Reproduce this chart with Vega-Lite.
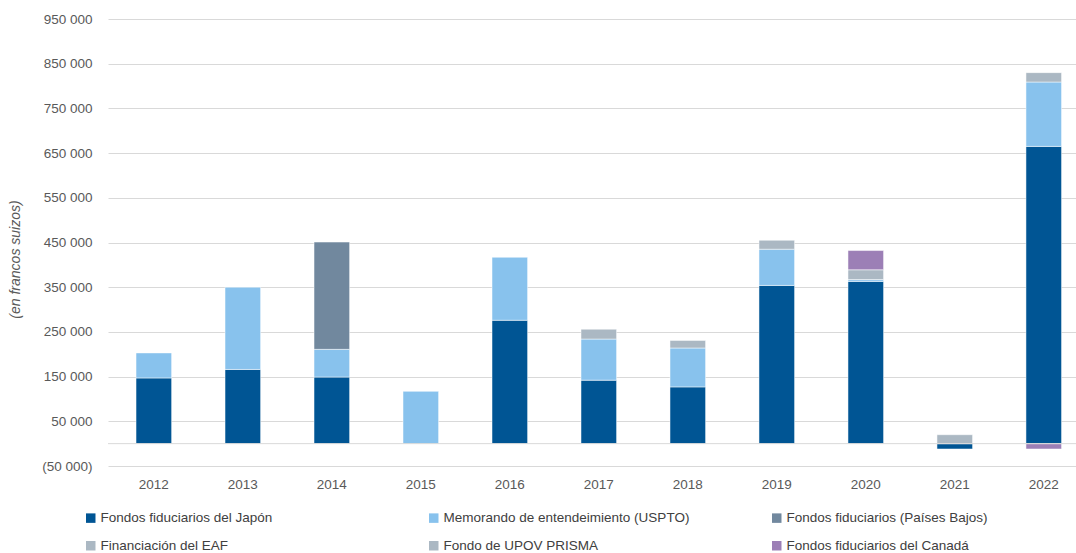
{
  "$schema": "https://vega.github.io/schema/vega-lite/v6.json",
  "autosize": {"type": "none"},
  "width": 968,
  "height": 447,
  "padding": {"left": 108, "top": 19, "right": 0, "bottom": 87},
  "background": "#ffffff",
  "config": {
    "font": "Liberation Sans, Arial, sans-serif",
    "view": {"stroke": null}
  },
  "data": {
    "values": [
      {"year": "2012", "serie": "Fondos fiduciarios del Japón", "k": 1, "v": 147000},
      {"year": "2012", "serie": "Memorando de entendeimiento (USPTO)", "k": 2, "v": 56000},
      {"year": "2013", "serie": "Fondos fiduciarios del Japón", "k": 1, "v": 166000},
      {"year": "2013", "serie": "Memorando de entendeimiento (USPTO)", "k": 2, "v": 184000},
      {"year": "2014", "serie": "Fondos fiduciarios del Japón", "k": 1, "v": 149000},
      {"year": "2014", "serie": "Memorando de entendeimiento (USPTO)", "k": 2, "v": 62000},
      {"year": "2014", "serie": "Fondos fiduciarios (Países Bajos)", "k": 3, "v": 240000},
      {"year": "2015", "serie": "Memorando de entendeimiento (USPTO)", "k": 2, "v": 117000},
      {"year": "2016", "serie": "Fondos fiduciarios del Japón", "k": 1, "v": 276000},
      {"year": "2016", "serie": "Memorando de entendeimiento (USPTO)", "k": 2, "v": 141000},
      {"year": "2017", "serie": "Fondos fiduciarios del Japón", "k": 1, "v": 142000},
      {"year": "2017", "serie": "Memorando de entendeimiento (USPTO)", "k": 2, "v": 92000},
      {"year": "2017", "serie": "Financiación del EAF", "k": 4, "v": 22000},
      {"year": "2018", "serie": "Fondos fiduciarios del Japón", "k": 1, "v": 127000},
      {"year": "2018", "serie": "Memorando de entendeimiento (USPTO)", "k": 2, "v": 87000},
      {"year": "2018", "serie": "Financiación del EAF", "k": 4, "v": 17000},
      {"year": "2019", "serie": "Fondos fiduciarios del Japón", "k": 1, "v": 354000},
      {"year": "2019", "serie": "Memorando de entendeimiento (USPTO)", "k": 2, "v": 81000},
      {"year": "2019", "serie": "Financiación del EAF", "k": 4, "v": 20000},
      {"year": "2020", "serie": "Fondos fiduciarios del Japón", "k": 1, "v": 363000},
      {"year": "2020", "serie": "Memorando de entendeimiento (USPTO)", "k": 2, "v": 4000},
      {"year": "2020", "serie": "Fondo de UPOV PRISMA", "k": 5, "v": 22000},
      {"year": "2020", "serie": "Fondos fiduciarios del Canadá", "k": 6, "v": 43000},
      {"year": "2021", "serie": "Fondos fiduciarios del Japón", "k": 1, "v": -12000},
      {"year": "2021", "serie": "Fondo de UPOV PRISMA", "k": 5, "v": 20000},
      {"year": "2022", "serie": "Fondos fiduciarios del Japón", "k": 1, "v": 665000},
      {"year": "2022", "serie": "Memorando de entendeimiento (USPTO)", "k": 2, "v": 144000},
      {"year": "2022", "serie": "Fondo de UPOV PRISMA", "k": 5, "v": 21000},
      {"year": "2022", "serie": "Fondos fiduciarios del Canadá", "k": 6, "v": -12000}
    ]
  },
  "layer": [
    {
      "mark": {"type": "bar", "stroke": "#ffffff", "strokeWidth": 0.5},
      "encoding": {
        "x": {
          "field": "year",
          "type": "nominal",
          "scale": {"paddingInner": 0.6, "paddingOuter": 0.2386, "align": 0.66},
          "axis": {
            "title": null,
            "labelAngle": 0,
            "domain": false,
            "ticks": false,
            "labelPadding": 11,
            "labelFontSize": 13.5,
            "labelColor": "#595959"
          }
        },
        "y": {
          "field": "v",
          "type": "quantitative",
          "stack": "zero",
          "scale": {"domain": [-50000, 950000], "nice": false, "zero": false},
          "axis": {
            "values": [-50000, 50000, 150000, 250000, 350000, 450000, 550000, 650000, 750000, 850000, 950000],
            "labelExpr": "datum.value < 0 ? '(' + replace(format(-datum.value, ','), ',', ' ') + ')' : replace(format(datum.value, ','), ',', ' ')",
            "domain": false,
            "ticks": false,
            "gridColor": "#d9d9d9",
            "gridWidth": 1,
            "labelPadding": 16,
            "labelFontSize": 13.5,
            "labelColor": "#595959",
            "title": "(en francos suizos)",
            "titleFontStyle": "italic",
            "titleFontWeight": "normal",
            "titleFontSize": 14,
            "titleColor": "#595959",
            "titleAngle": -90,
            "titleX": -93,
            "titleY": 240,
            "titleAlign": "center",
            "titleBaseline": "middle"
          }
        },
        "color": {
          "field": "serie",
          "type": "nominal",
          "scale": {
            "domain": ["Fondos fiduciarios del Japón", "Financiación del EAF", "Memorando de entendeimiento (USPTO)", "Fondo de UPOV PRISMA", "Fondos fiduciarios (Países Bajos)", "Fondos fiduciarios del Canadá"],
            "range": ["#005594", "#abb8c3", "#88c2ed", "#abb8c3", "#71889e", "#9c7fb6"]
          },
          "legend": {
            "title": null,
            "orient": "none",
            "legendX": -24,
            "legendY": 492,
            "columns": 3,
            "gridAlign": "all",
            "columnPadding": 80,
            "rowPadding": 13,
            "symbolType": "square",
            "symbolSize": 90,
            "symbolStrokeWidth": 0,
            "labelFontSize": 13.5,
            "labelColor": "#404040",
            "labelOffset": 3,
            "labelLimit": 400
          }
        },
        "order": {"field": "k", "type": "quantitative"}
      }
    },
    {
      "data": {"values": [{"z": 0}]},
      "mark": {"type": "rule", "color": "#d9d9d9", "strokeWidth": 1},
      "encoding": {"y": {"field": "z", "type": "quantitative"}}
    }
  ]
}
